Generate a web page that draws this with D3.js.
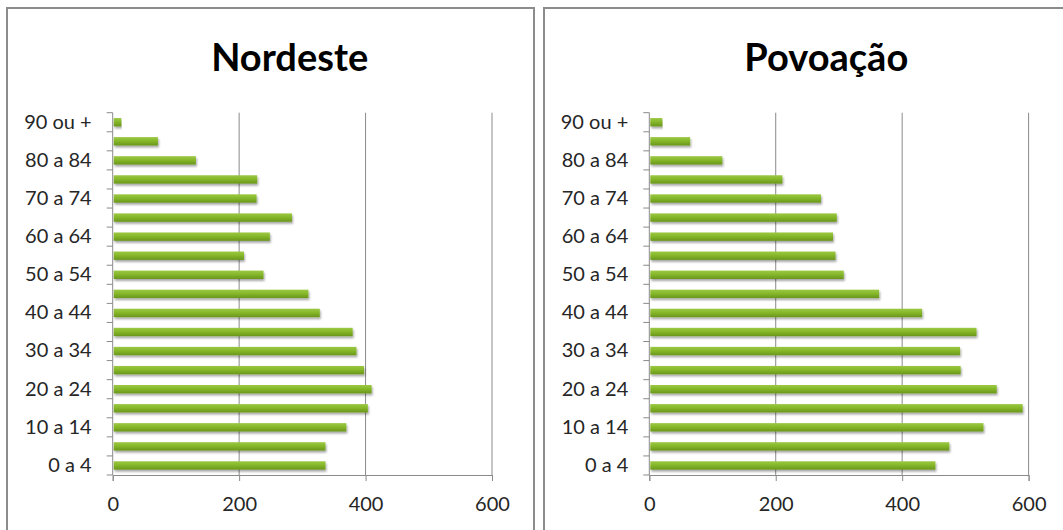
<!DOCTYPE html>
<html>
<head>
<meta charset="utf-8">
<script src="https://d3js.org/d3.v7.min.js"></script>
<style>
  body { margin: 0; background: #fff; }
  svg text { font-family: Lato, "Open Sans", sans-serif; fill: #262626; }
</style>
</head>
<body>
<svg id="chart" width="1063" height="530"></svg>
<script>
// faixas etarias, de baixo para cima
var categories = ["0 a 4", "5 a 9", "10 a 14", "15 a 19", "20 a 24", "25 a 29", "30 a 34",
  "35 a 39", "40 a 44", "45 a 49", "50 a 54", "55 a 59", "60 a 64", "65 a 69",
  "70 a 74", "75 a 79", "80 a 84", "85 a 89", "90 ou +"];
// so metade das etiquetas aparece no eixo
var shownLabels = ["0 a 4", "10 a 14", "20 a 24", "30 a 34", "40 a 44", "50 a 54",
  "60 a 64", "70 a 74", "80 a 84", "90 ou +"];
var nordeste = [335, 335, 368, 402, 408, 396, 384, 378, 326, 308,
  237, 206, 247, 282, 226, 227, 130, 70, 12];
var povoacao = [451, 473, 527, 589, 548, 491, 490, 516, 430, 362,
  306, 293, 289, 295, 270, 209, 114, 63, 19];
var xTicks = [0, 200, 400, 600];

var svg = d3.select("#chart");

// sombra das barras
var defs = svg.append("defs");
var f = defs.append("filter").attr("id", "shadow")
  .attr("x", "-5%").attr("y", "-60%").attr("width", "110%").attr("height", "220%");
f.append("feDropShadow").attr("dx", 1).attr("dy", 2).attr("stdDeviation", 1.1)
  .attr("flood-color", "#000").attr("flood-opacity", 0.35);
var grad = defs.append("linearGradient").attr("id", "green")
  .attr("x1", 0).attr("y1", 0).attr("x2", 0).attr("y2", 1);
grad.append("stop").attr("offset", "0%").attr("stop-color", "#9cc844");
grad.append("stop").attr("offset", "45%").attr("stop-color", "#86b82a");
grad.append("stop").attr("offset", "100%").attr("stop-color", "#6a961c");

var plotTop = 112.7, plotBottom = 475, plotW = 379.3;

function drawPanel(px, boxX, boxW, title, values) {
  var g = svg.append("g");

  g.append("rect")
    .attr("x", boxX).attr("y", 8).attr("width", boxW).attr("height", 540)
    .attr("fill", "#fff").attr("stroke", "#8c8c8c").attr("stroke-width", 2);

  var x = d3.scaleLinear().domain([0, 600]).range([px, px + plotW]);
  var y = d3.scaleBand().domain(categories).range([plotBottom, plotTop])
    .paddingInner(0.56).paddingOuter(0.28);
  var step = y.step();

  // linhas de grelha verticais
  g.selectAll(".grid").data(xTicks.slice(1)).enter().append("line")
    .attr("x1", function(d) { return x(d); }).attr("x2", function(d) { return x(d); })
    .attr("y1", plotTop).attr("y2", plotBottom)
    .attr("stroke", "#8a8a8a").attr("stroke-width", 1);

  // eixo x
  var xAxis = g.append("g").attr("transform", "translate(0," + plotBottom + ")")
    .call(d3.axisBottom(x).tickValues(xTicks).tickSize(6).tickPadding(16));
  xAxis.select(".domain").attr("stroke", "#8a8a8a");
  xAxis.selectAll(".tick line").attr("stroke", "#8a8a8a");
  xAxis.selectAll("text").attr("font-size", 20).attr("fill", "#262626");

  // barras
  g.selectAll(".bar").data(values).enter().append("rect")
    .attr("x", x(0) + 1)
    .attr("y", function(d, i) { return y(categories[i]); })
    .attr("width", function(d) { return x(d) - x(0); })
    .attr("height", y.bandwidth())
    .attr("fill", "url(#green)")
    .attr("filter", "url(#shadow)");

  // eixo y: linha e marcas entre categorias
  g.append("line").attr("x1", px).attr("x2", px).attr("y1", plotTop).attr("y2", plotBottom)
    .attr("stroke", "#8a8a8a");
  g.selectAll(".ytick").data(d3.range(categories.length + 1)).enter().append("line")
    .attr("x1", px - 6).attr("x2", px)
    .attr("y1", function(i) { return plotBottom - i * step; })
    .attr("y2", function(i) { return plotBottom - i * step; })
    .attr("stroke", "#8a8a8a");

  var yAxis = g.append("g").attr("transform", "translate(" + px + ",0)")
    .call(d3.axisLeft(y).tickValues(shownLabels).tickSize(0).tickPadding(21));
  yAxis.select(".domain").remove();
  yAxis.selectAll("text").attr("font-size", 20).attr("fill", "#262626");

  g.append("text")
    .attr("x", px + 177).attr("y", 70.5)
    .attr("text-anchor", "middle")
    .attr("font-size", 38).attr("font-weight", "bold")
    .style("fill", "#000")
    .text(title);
}

drawPanel(112.7, 7, 527, "Nordeste", nordeste);
drawPanel(649.3, 544, 530, "Povoação", povoacao);
</script>
</body>
</html>
